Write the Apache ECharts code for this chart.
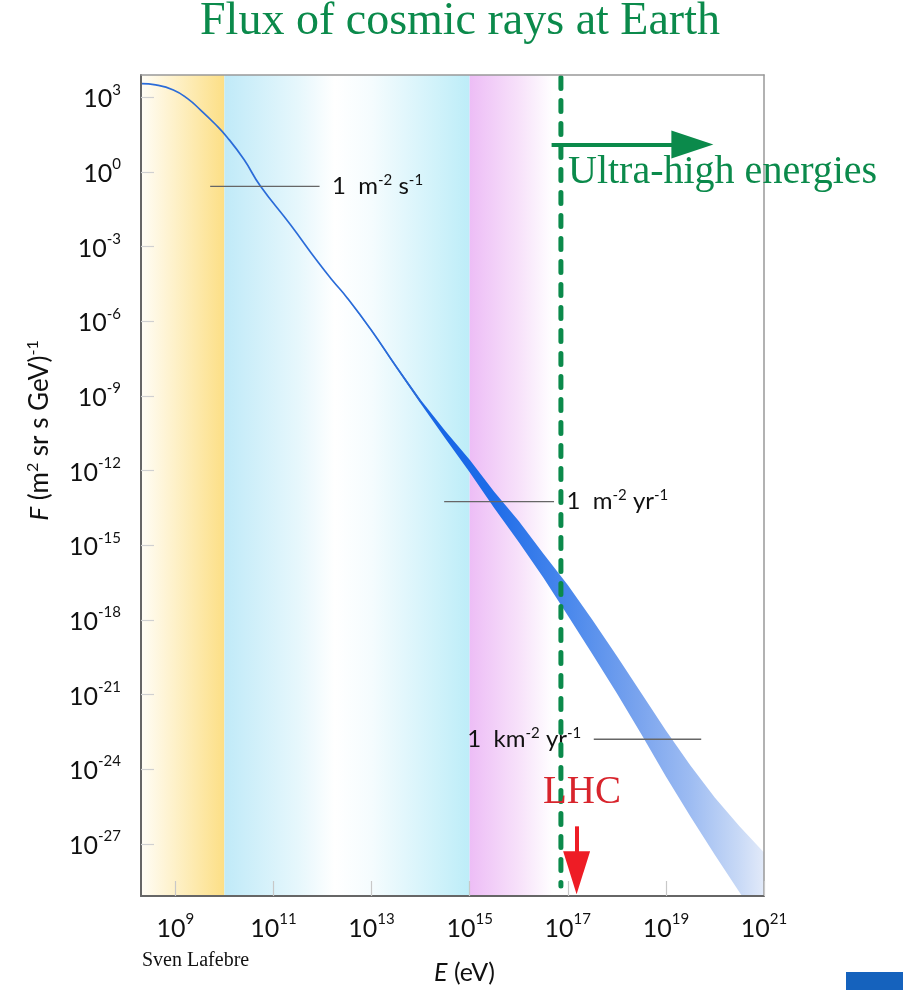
<!DOCTYPE html>
<html>
<head>
<meta charset="utf-8">
<title>Flux of cosmic rays at Earth</title>
<script src="https://cdn.jsdelivr.net/npm/echarts@6/dist/echarts.min.js"></script>
<style>
html,body{margin:0;padding:0;background:#fff;}
#main{width:903px;height:990px;}
</style>
</head>
<body>
<div id="main"></div>
<script>
// all values are log10: E in eV, F in (m2 sr s GeV)^-1
var xTicks = [9, 11, 13, 15, 17, 19, 21];
var yTicks = [-27, -24, -21, -18, -15, -12, -9, -6, -3, 0, 3];

// thin part of the spectrum
var lineE = [8.31, 8.6, 8.96, 9.25, 9.51, 9.8, 10.06, 10.4, 10.73, 11.34, 11.9, 12.2, 12.5, 13, 13.5, 14];
var lineF = [3.55, 3.5, 3.3, 2.95, 2.5, 1.95, 1.39, 0.5, -0.55, -2.1, -3.6, -4.35, -5.05, -6.37, -7.82, -9.23];

// widening band (lower / upper edge)
var bandE  = [12.5, 13, 13.5, 14, 14.5, 15, 15.5, 16, 16.5, 17, 17.5, 18, 18.5, 19, 19.5, 20, 20.5, 21];
var bandLo = [-5.07, -6.4, -7.87, -9.3, -10.7, -12.07, -13.5, -14.87, -16.3, -17.83, -19.37, -20.95, -22.6, -24.3, -25.9, -27.45, -28.95, -30.4];
var bandHi = [-5.03, -6.34, -7.77, -9.15, -10.4, -11.57, -12.85, -14.03, -15.33, -16.6, -18.0, -19.45, -20.95, -22.45, -23.85, -25.15, -26.3, -27.35];

// coloured energy ranges
var rangeFrom = [8.3, 10, 15];
var rangeTo   = [10, 15, 17];

// reference flux lines
var refF    = [-0.58, -13.25, -22.8];
var refFrom = [9.71, 14.48, 17.53];
var refTo   = [11.94, 16.72, 19.72];
var refText = ['{t|1  m}{s|-2}{t| s}{s|-1}', '{t|1  m}{s|-2}{t| yr}{s|-1}', '{t|1  km}{s|-2}{t| yr}{s|-1}'];
var refSide = ['right', 'right', 'left'];

// markers
var uheE = 16.86;
var uheTop = 3.8, uheBottom = -28.7;
var arrowE = [16.67, 19.54], arrowF = 1.11;
var lhcE = 17.18, lhcF = [-26.3, -28.17];

var sans = 'Lato';
var serif = 'Liberation Serif';
var green = '#0b8a4b';

var chart = echarts.init(document.getElementById('main'));

function expLabel(v){
    return '{b|10}{s|' + Math.round(v) + '}';
}

var tickRich = {
    b: {fontFamily: sans, fontSize: 25, color: '#111', lineHeight: 30, padding: [4, 0, 0, 0]},
    s: {fontFamily: sans, fontSize: 15, color: '#111', lineHeight: 15, verticalAlign: 'top'}
};
var refRich = {
    t: {fontFamily: sans, fontSize: 24, color: '#111', lineHeight: 28},
    s: {fontFamily: sans, fontSize: 15, color: '#111', lineHeight: 15, verticalAlign: 'top'}
};

var rangeColors = [
    [[0, '#fffdf6'], [1, '#fcdf86']],
    [[0, '#c0eaf8'], [0.3, '#e6f7fc'], [0.45, '#ffffff'], [0.6, '#f5fcfe'], [1, '#bdedf8']],
    [[0, '#edbdf6'], [0.5, '#f7e1fa'], [0.85, '#ffffff'], [1, '#ffffff']]
];
var areas = [];
for (var i = 0; i < rangeFrom.length; i++) {
    var st = rangeColors[i].map(function (c) { return {offset: c[0], color: c[1]}; });
    areas.push([
        {xAxis: rangeFrom[i], itemStyle: {color: new echarts.graphic.LinearGradient(0, 0, 1, 0, st)}},
        {xAxis: rangeTo[i]}
    ]);
}

var bandFill = new echarts.graphic.LinearGradient(0, 0, 1, 0, [
    {offset: 0, color: '#2a6ad8'},
    {offset: 0.235, color: '#1866e6'},
    {offset: 0.35, color: '#1f6ce8'},
    {offset: 0.53, color: '#4a88ec'},
    {offset: 0.7, color: '#7aa4ee'},
    {offset: 0.82, color: '#9cbbf2'},
    {offset: 0.94, color: '#c8d9f6'},
    {offset: 1, color: '#e2eaf9'}
]);

function renderBand(params, api){
    if (params.dataIndex !== 0) return;
    var pts = [];
    for (var i = 0; i < bandE.length; i++) pts.push(api.coord([bandE[i], bandHi[i]]));
    for (var j = bandE.length - 1; j >= 0; j--) pts.push(api.coord([bandE[j], bandLo[j]]));
    return {type: 'polygon', shape: {points: pts}, style: {fill: bandFill}};
}

var series = [
    {
        type: 'line', data: [], z: 1, silent: true,
        markArea: {silent: true, data: areas}
    },
    {
        type: 'custom', z: 2, clip: true, silent: true,
        renderItem: renderBand,
        encode: {x: 0, y: [1, 2]},
        data: bandE.map(function (e, i) { return [e, bandLo[i], bandHi[i]]; })
    },
    {
        type: 'line', z: 3, smooth: true, symbol: 'none', silent: true,
        lineStyle: {color: '#2b6cd8', width: 1.7},
        data: lineE.map(function (e, i) { return [e, lineF[i]]; })
    }
];

for (var k = 0; k < refF.length; k++) {
    var lbl = {show: true, position: refSide[k], distance: 12, formatter: refText[k], rich: refRich};
    var p1 = {value: [refFrom[k], refF[k]]};
    var p2 = {value: [refTo[k], refF[k]]};
    if (refSide[k] == 'left') p1.label = lbl; else p2.label = lbl;
    series.push({
        type: 'line', z: 4, symbol: 'circle', symbolSize: 1, showSymbol: true, silent: true,
        itemStyle: {color: 'rgba(0,0,0,0)'},
        lineStyle: {color: '#666', width: 1.3},
        label: {show: false},
        data: [p1, p2]
    });
}

// ultra-high energy boundary + arrow
series.push({
    type: 'line', z: 6, symbol: 'none', silent: true,
    lineStyle: {color: green, width: 5, type: [11, 12], cap: 'round'},
    data: [[uheE, uheTop], [uheE, uheBottom]],
    markLine: {
        silent: true, symbol: ['none', 'triangle'], symbolSize: [28, 42],
        label: {show: false},
        lineStyle: {color: green, width: 4, type: 'solid'},
        data: [[{coord: [arrowE[0], arrowF]}, {coord: [arrowE[1], arrowF]}]]
    }
});
// LHC arrow
series.push({
    type: 'line', z: 7, data: [], silent: true,
    markLine: {
        silent: true, symbol: ['none', 'triangle'], symbolSize: [27, 43],
        label: {show: false},
        lineStyle: {color: '#ee1c25', width: 4, type: 'solid'},
        data: [[{coord: [lhcE, lhcF[0]]}, {coord: [lhcE, lhcF[1]]}]]
    }
});

var option = {
    animation: false,
    title: {
        text: 'Flux of cosmic rays at Earth',
        left: 455, top: -6, textAlign: 'center',
        textStyle: {fontFamily: serif, fontSize: 46, fontWeight: 'normal', color: green}
    },
    grid: {left: 141, right: 139, top: 75, bottom: 90},
    xAxis: [{
        type: 'value', min: 8.3, max: 21, z: 10,
        axisLine: {onZero: false, lineStyle: {color: '#666', width: 2}},
        axisTick: {inside: true, length: 15, customValues: xTicks, lineStyle: {color: '#c8c8c8', width: 1.2}},
        axisLabel: {customValues: xTicks, margin: 16, formatter: expLabel, rich: tickRich},
        splitLine: {show: false},
        name: '{i|E} (eV)', nameLocation: 'middle', nameGap: 64,
        nameTextStyle: {fontFamily: sans, fontSize: 25, color: '#111', padding: [0, 0, 0, 24],
            rich: {i: {fontFamily: sans, fontSize: 25, fontStyle: 'italic', color: '#111'}}}
    }, {
        type: 'value', min: 8.3, max: 21, position: 'top', z: 10,
        axisLine: {onZero: false, lineStyle: {color: '#999', width: 1.5}},
        axisTick: {show: false}, axisLabel: {show: false}, splitLine: {show: false}
    }],
    yAxis: [{
        type: 'value', min: -29.1, max: 3.9, z: 10,
        axisLine: {onZero: false, lineStyle: {color: '#666', width: 2}},
        axisTick: {inside: true, length: 13, customValues: yTicks, lineStyle: {color: '#d0d0d0', width: 1.2}},
        axisLabel: {customValues: yTicks, margin: 20, formatter: expLabel, rich: tickRich},
        splitLine: {show: false},
        name: '{i|F} (m{s|2} sr s GeV){s|-1}', nameLocation: 'middle', nameGap: 86, nameRotate: 90,
        nameTextStyle: {fontFamily: sans, fontSize: 26, color: '#111', padding: [0, 0, 0, 110],
            rich: {
                i: {fontFamily: sans, fontSize: 26, fontStyle: 'italic', color: '#111', lineHeight: 30},
                s: {fontFamily: sans, fontSize: 16, color: '#111', lineHeight: 16, verticalAlign: 'top'}
            }}
    }, {
        type: 'value', min: -29.1, max: 3.9, position: 'right', z: 10,
        axisLine: {onZero: false, lineStyle: {color: '#999', width: 1.5}},
        axisTick: {show: false}, axisLabel: {show: false}, splitLine: {show: false}
    }],
    graphic: [
        {type: 'text', x: 568, y: 172, z: 100, style: {text: 'Ultra-high energies', font: '40px "Liberation Serif"', fill: green, verticalAlign: 'middle'}},
        {type: 'text', x: 543, y: 793, z: 100, style: {text: 'LHC', font: '39px "Liberation Serif"', fill: '#d8242c', verticalAlign: 'middle'}},
        {type: 'text', x: 142, y: 961, z: 100, style: {text: 'Sven Lafebre', font: '20px "Liberation Serif"', fill: '#111', verticalAlign: 'middle'}},
        {type: 'rect', shape: {x: 846, y: 972, width: 57, height: 18}, style: {fill: '#1562bd'}}
    ],
    series: series
};

chart.setOption(option);
</script>
</body>
</html>
